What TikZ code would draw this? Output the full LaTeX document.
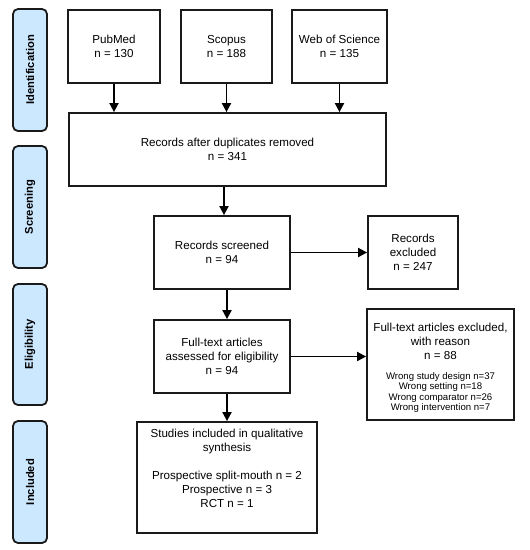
\documentclass[tikz,border=0pt]{standalone}
\usepackage{fontspec}
\setmainfont{Liberation Sans}
\usetikzlibrary{arrows.meta,calc}
\definecolor{sidefill}{HTML}{CCE8FF}
\definecolor{edge}{HTML}{1A1A1A}
\tikzset{
  box/.style={draw=edge, line width=1.8pt, fill=white, align=center, inner sep=2pt,
    font=\fontsize{11.6}{14}\selectfont},
  side/.style={draw=edge, line width=1.8pt, fill=sidefill, rounded corners=5pt,
    minimum width=34pt, font=\fontsize{11.2}{12}\selectfont\bfseries},
  arr/.style={draw=black, line width=1.8pt, -{Triangle[length=9pt,width=9pt]}}
}
\newcommand{\smalllist}{\fontsize{9.6}{10.5}\selectfont\begin{tabular}{@{}c@{}}Wrong study design n=37\\
  Wrong setting n=18\\
  Wrong comparator n=26\\
  Wrong intervention n=7\end{tabular}}
\begin{document}
\begin{tikzpicture}[x=1pt,y=-1pt]
\useasboundingbox (0,0) rectangle (530,550);
% side labels
\node[side, minimum height=122pt] (sid) at (30,70) {\rotatebox{90}{Identification}};
\node[side, minimum height=122pt] (sscr) at (30,207) {\rotatebox{90}{Screening}};
\node[side, minimum height=121pt] (sel) at (30,344.5) {\rotatebox{90}{Eligibility}};
\node[side, minimum height=122pt] (sinc) at (30,482) {\rotatebox{90}{Included}};
% boxes
\node[box, minimum width=92pt, minimum height=73pt] (pub) at (114,46.5) {PubMed\\n = 130};
\node[box, minimum width=91pt, minimum height=73pt] (sco) at (226.5,46.5) {Scopus\\n = 188};
\node[box, minimum width=95pt, minimum height=73pt] (wos) at (339.5,46.5) {Web of Science\\n = 135};
\node[box, minimum width=317pt, minimum height=73pt] (dup) at (227.5,149.5) {Records after duplicates removed\\n = 341};
\node[box, minimum width=136pt, minimum height=73pt] (scr) at (222,252.5) {Records screened\\n = 94};
\node[box, minimum width=90pt, minimum height=73pt] (exc) at (413,252.5) {Records\\excluded\\n = 247};
\node[box, minimum width=136pt, minimum height=73pt] (ft) at (222,356.5) {Full-text articles\\assessed for eligibility\\n = 94};
\node[box, minimum width=147pt, minimum height=111pt] (ftx) at (440.5,364.5) {};
\node[align=center, font=\fontsize{11.6}{14}\selectfont, anchor=north, inner sep=0pt] (ftxtext) at (440.5,323)
  {Full-text articles excluded,\\with reason\\n = 88\\[11pt]\smalllist};
\node[box, minimum width=180pt, minimum height=111pt] (inc) at (227,477.5) {};
\node[align=center, font=\fontsize{11.6}{14}\selectfont, anchor=north, inner sep=0pt] (inctext) at (227,428.5)
  {Studies included in qualitative\\synthesis\\[14.5pt]Prospective split-mouth n = 2\\Prospective n = 3\\RCT n = 1};
% connectors
\draw[arr] (pub.south) -- (pub.south |- dup.north);
\draw[arr] (sco.south) -- (sco.south |- dup.north);
\draw[arr] (wos.south) -- (wos.south |- dup.north);
\draw[arr] ([xshift=2pt]dup.south -| scr.north) -- ([xshift=2pt]scr.north);
\draw[arr] (scr.east) -- (exc.west);
\draw[arr] (scr.south -| inc.north) -- (ft.north -| inc.north);
\draw[arr] (ft.east) -- (ft.east -| ftx.west);
\draw[arr] (ft.south -| inc.north) -- (inc.north);
\end{tikzpicture}
\end{document}
